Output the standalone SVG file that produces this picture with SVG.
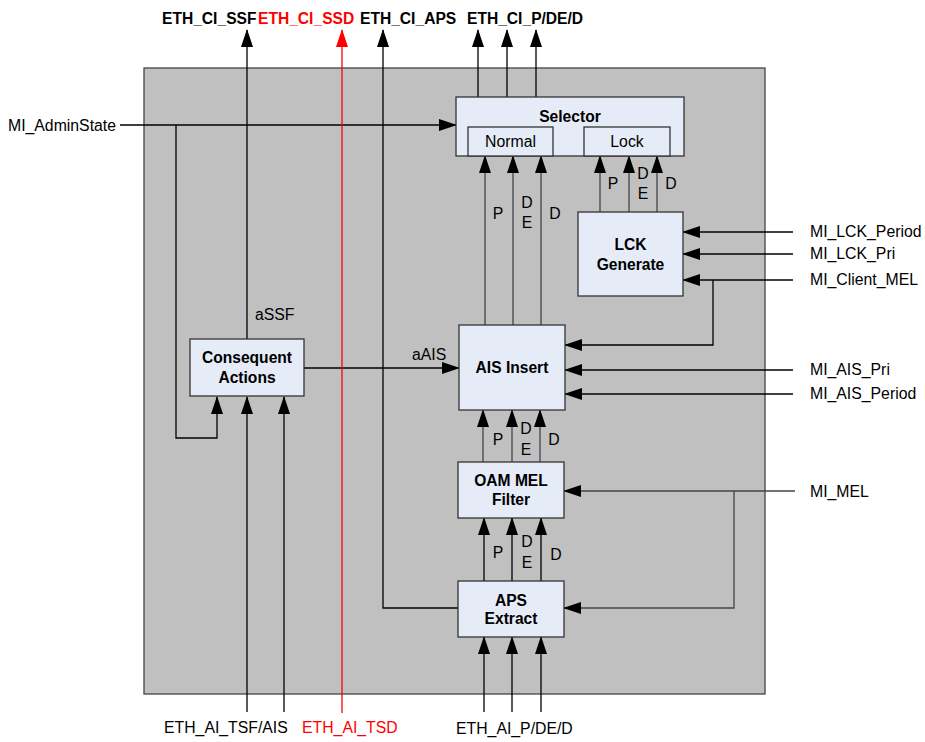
<svg xmlns="http://www.w3.org/2000/svg" width="925" height="742" viewBox="0 0 925 742">
<style>
text{font-family:"Liberation Sans",Arial,sans-serif;font-size:15.8px;fill:#000}
.b{font-weight:bold;font-size:15.6px}
.m{text-anchor:middle}
.red{fill:#ff0000}
.box{fill:#e6ecf7;stroke:#333;stroke-width:1.3}
.ln{fill:none;stroke:#000;stroke-width:1.3}
.lg{fill:none;stroke:#444;stroke-width:1.3}
.rl{fill:none;stroke:#ff0000;stroke-width:1.3}
</style>
<defs>
<marker id="a" markerUnits="userSpaceOnUse" markerWidth="18" markerHeight="12" refX="17" refY="6" orient="auto"><path d="M0,0 L18,6 L0,12 Z" fill="#000"/></marker>
<marker id="r" markerUnits="userSpaceOnUse" markerWidth="18" markerHeight="12" refX="17" refY="6" orient="auto"><path d="M0,0 L18,6 L0,12 Z" fill="#ff0000"/></marker>
</defs>
<rect id="frame" x="144" y="68" width="621" height="626" fill="#c0c0c0" stroke="#444" stroke-width="1.3"/>

<g id="connectors">
<path class="ln" d="M247,339 V30" marker-end="url(#a)"/>
<path class="ln" d="M564,608 H383 V30" marker-end="url(#a)"/>
<path class="ln" d="M478,97 V30" marker-end="url(#a)"/>
<path class="ln" d="M507,97 V30" marker-end="url(#a)"/>
<path class="ln" d="M536,97 V30" marker-end="url(#a)"/>
<path class="ln" d="M120,125 H456" marker-end="url(#a)"/>
<path class="ln" d="M176,125 V438 H217 V397" marker-end="url(#a)"/>
<path class="ln" d="M247,712 V397" marker-end="url(#a)"/>
<path class="ln" d="M284,712 V397" marker-end="url(#a)"/>
<path class="ln" d="M484,712 V637" marker-end="url(#a)"/>
<path class="ln" d="M512,712 V637" marker-end="url(#a)"/>
<path class="ln" d="M541,712 V637" marker-end="url(#a)"/>
<path class="ln" d="M304,368 H459" marker-end="url(#a)"/>
<path class="lg" d="M485,325 V156" marker-end="url(#a)"/>
<path class="lg" d="M513,325 V156" marker-end="url(#a)"/>
<path class="lg" d="M541,325 V156" marker-end="url(#a)"/>
<path class="lg" d="M600,212 V156" marker-end="url(#a)"/>
<path class="lg" d="M629,212 V156" marker-end="url(#a)"/>
<path class="lg" d="M657,212 V156" marker-end="url(#a)"/>
<path class="lg" d="M483,462 V410" marker-end="url(#a)"/>
<path class="lg" d="M512,462 V410" marker-end="url(#a)"/>
<path class="lg" d="M540,462 V410" marker-end="url(#a)"/>
<path class="ln" d="M484,581 V518" marker-end="url(#a)"/>
<path class="ln" d="M512,581 V518" marker-end="url(#a)"/>
<path class="ln" d="M541,581 V518" marker-end="url(#a)"/>
<path class="ln" d="M793,232 H683" marker-end="url(#a)"/>
<path class="ln" d="M793,254 H683" marker-end="url(#a)"/>
<path class="ln" d="M793,280 H683" marker-end="url(#a)"/>
<path class="ln" d="M713,280 V345 H565" marker-end="url(#a)"/>
<path class="ln" d="M793,370 H565" marker-end="url(#a)"/>
<path class="ln" d="M793,394 H565" marker-end="url(#a)"/>
<path class="lg" d="M795,491 H564" marker-end="url(#a)"/>
<path class="lg" d="M734,491 V608 H564" marker-end="url(#a)"/>
<path class="rl" d="M342,713 V30" marker-end="url(#r)"/>
</g>

<g id="selector">
<rect class="box" x="456" y="97" width="228" height="59"/>
<text class="b m" x="570" y="122">Selector</text>
<rect class="box" x="468" y="127" width="85" height="29"/>
<text class="m" x="510.5" y="147">Normal</text>
<rect class="box" x="584" y="127" width="86" height="29"/>
<text class="m" x="627" y="147">Lock</text>
</g>

<g id="lck">
<rect class="box" x="578" y="212" width="105" height="84"/>
<text class="b m" x="630.5" y="250">LCK</text>
<text class="b m" x="630.5" y="270">Generate</text>
</g>

<g id="consequent">
<rect class="box" x="190" y="339" width="114" height="57"/>
<text class="b m" x="247" y="363">Consequent</text>
<text class="b m" x="247" y="383">Actions</text>
</g>

<g id="ais">
<rect class="box" x="459" y="325" width="106" height="85"/>
<text class="b m" x="512" y="373">AIS Insert</text>
</g>

<g id="oam">
<rect class="box" x="458" y="462" width="106" height="56"/>
<text class="b m" x="511" y="486">OAM MEL</text>
<text class="b m" x="511" y="505">Filter</text>
</g>

<g id="aps">
<rect class="box" x="458" y="581" width="106" height="56"/>
<text class="b m" x="511" y="606">APS</text>
<text class="b m" x="511" y="624">Extract</text>
</g>

<g id="labels">
<text class="b" x="162" y="24">ETH_CI_SSF</text>
<text class="b red" x="258" y="24">ETH_CI_SSD</text>
<text class="b" x="360" y="24">ETH_CI_APS</text>
<text class="b" x="467" y="24">ETH_CI_P/DE/D</text>
<text x="8" y="131">MI_AdminState</text>
<text x="255" y="320">aSSF</text>
<text x="412" y="360">aAIS</text>
<text class="m" x="498" y="219">P</text>
<text class="m" x="527" y="208">D</text>
<text class="m" x="527" y="228">E</text>
<text class="m" x="555" y="219">D</text>
<text class="m" x="613" y="189">P</text>
<text class="m" x="643" y="179">D</text>
<text class="m" x="643" y="199">E</text>
<text class="m" x="671" y="189">D</text>
<text class="m" x="498" y="445">P</text>
<text class="m" x="526" y="434">D</text>
<text class="m" x="526" y="455">E</text>
<text class="m" x="554" y="445">D</text>
<text class="m" x="498" y="558">P</text>
<text class="m" x="527" y="547">D</text>
<text class="m" x="527" y="568">E</text>
<text class="m" x="556" y="560">D</text>
<text x="810" y="237">MI_LCK_Period</text>
<text x="810" y="259">MI_LCK_Pri</text>
<text x="810" y="285">MI_Client_MEL</text>
<text x="810" y="375">MI_AIS_Pri</text>
<text x="810" y="399">MI_AIS_Period</text>
<text x="810" y="497">MI_MEL</text>
<text x="164" y="733">ETH_AI_TSF/AIS</text>
<text class="red" x="302" y="733">ETH_AI_TSD</text>
<text x="456" y="734">ETH_AI_P/DE/D</text>
</g>
</svg>
